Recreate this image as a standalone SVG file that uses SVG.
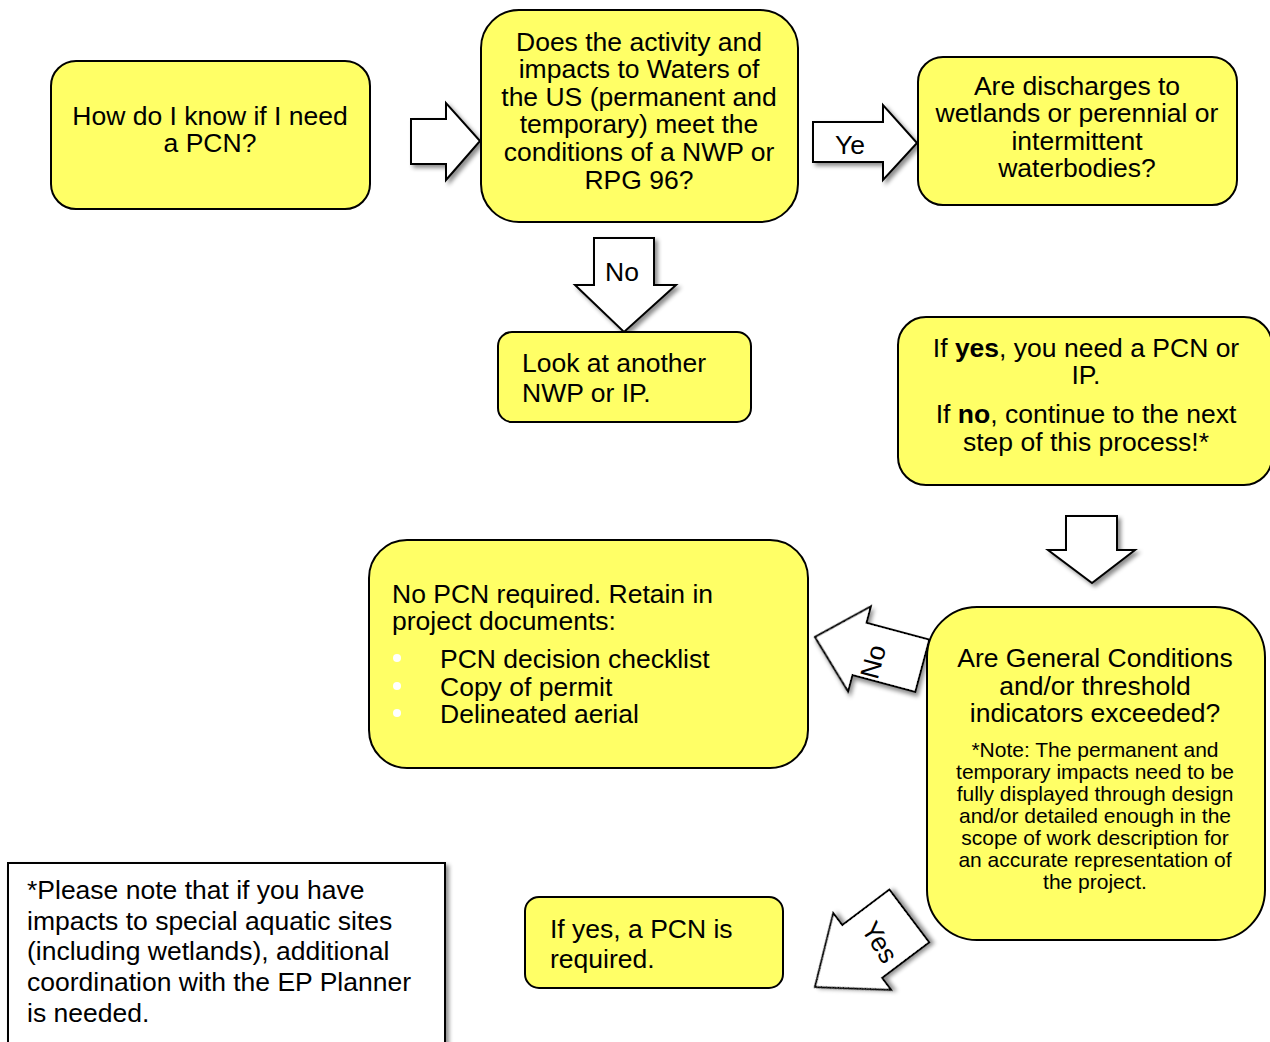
<svg xmlns="http://www.w3.org/2000/svg" width="1270" height="1042" viewBox="0 0 1270 1042">
  <defs>
    <filter id="shadow" x="-20%" y="-20%" width="150%" height="150%">
      <feDropShadow dx="3" dy="3" stdDeviation="2" flood-color="#000" flood-opacity="0.45"/>
    </filter>
    <style>
      .box { fill: #FFFF66; stroke: #000; stroke-width: 2; }
      .arrow { fill: #fff; stroke: #000; stroke-width: 2; stroke-linejoin: miter; filter: url(#shadow); }
      text { font-family: "Liberation Sans", Arial, sans-serif; fill: #000; }
      .t { font-size: 26.5px; }
      .c { text-anchor: middle; }
      .s { font-size: 21px; }
      .b { font-weight: bold; }
    </style>
  </defs>
  <rect width="1270" height="1042" fill="#fff"/>

  <!-- block arrows between the steps -->
  <g id="connectors">
    <polygon class="arrow" points="411,119 446,119 446,103 480,141 446,180 446,164 411,164"/>
    <g>
      <polygon class="arrow" points="813,122 883,122 883,105 917,143 883,180 883,162 813,162"/>
      <text class="t" x="835" y="153.5">Ye</text>
    </g>
    <g>
      <polygon class="arrow" points="594,238 654,238 654,285 676,285 624,332 575,285 594,285"/>
      <text class="t" x="605" y="280.5">No</text>
    </g>
    <polygon class="arrow" points="1066,516 1117,516 1117,550 1135,550 1092,583 1048,550 1066,550"/>
    <g>
      <polygon class="arrow" transform="translate(815,637) rotate(15)" points="0,0 46,-44 46,-27 111,-27 111,27 46,27 46,44"/>
      <text class="t c" transform="translate(882,664) rotate(-75)">No</text>
    </g>
    <g>
      <polygon class="arrow" transform="translate(815,987) rotate(-37)" points="0,0 59,-48 59,-33 118,-33 118,33 59,33 59,48"/>
      <text class="t c" transform="translate(872,947) rotate(58)">Yes</text>
    </g>
  </g>

  <g id="start">
    <rect class="box" x="51" y="61" width="319" height="148" rx="25"/>
    <text class="t c" x="210" y="124.5">How do I know if I need</text>
    <text class="t c" x="210" y="151.5">a PCN?</text>
  </g>

  <g id="nwp-conditions">
    <rect class="box" x="481" y="10" width="317" height="212" rx="38"/>
    <text class="t c" x="639" y="50.5">Does the activity and</text>
    <text class="t c" x="639" y="78">impacts to Waters of</text>
    <text class="t c" x="639" y="105.5">the US (permanent and</text>
    <text class="t c" x="639" y="133">temporary) meet the</text>
    <text class="t c" x="639" y="161">conditions of a NWP or</text>
    <text class="t c" x="639" y="188.5">RPG 96?</text>
  </g>

  <g id="discharges">
    <rect class="box" x="918" y="57" width="319" height="148" rx="25"/>
    <text class="t c" x="1077" y="94.5">Are discharges to</text>
    <text class="t c" x="1077" y="121.5">wetlands or perennial or</text>
    <text class="t c" x="1077" y="149.5">intermittent</text>
    <text class="t c" x="1077" y="176.5">waterbodies?</text>
  </g>

  <g id="another-nwp">
    <rect class="box" x="498" y="332" width="253" height="90" rx="14"/>
    <text class="t" x="522" y="371.5">Look at another</text>
    <text class="t" x="522" y="401.5">NWP or IP.</text>
  </g>

  <g id="yes-no-guidance">
    <rect class="box" x="898" y="317" width="374" height="168" rx="28"/>
    <text class="t c" x="1086" y="356.5">If <tspan class="b">yes</tspan>, you need a PCN or</text>
    <text class="t c" x="1086" y="383.5">IP.</text>
    <text class="t c" x="1086" y="422.5">If <tspan class="b">no</tspan>, continue to the next</text>
    <text class="t c" x="1086" y="450.5">step of this process!*</text>
  </g>

  <g id="no-pcn">
    <rect class="box" x="369" y="540" width="439" height="228" rx="38"/>
    <text class="t" x="392" y="602.5">No PCN required. Retain in</text>
    <text class="t" x="392" y="629.5">project documents:</text>
    <circle cx="397" cy="658" r="4" fill="#fff"/>
    <circle cx="397" cy="686" r="4" fill="#fff"/>
    <circle cx="397" cy="713" r="4" fill="#fff"/>
    <text class="t" x="440" y="667.5">PCN decision checklist</text>
    <text class="t" x="440" y="695.5">Copy of permit</text>
    <text class="t" x="440" y="722.5">Delineated aerial</text>
  </g>

  <g id="general-conditions">
    <rect class="box" x="927" y="607" width="338" height="333" rx="50"/>
    <text class="t c" x="1095" y="666.5">Are General Conditions</text>
    <text class="t c" x="1095" y="694.5">and/or threshold</text>
    <text class="t c" x="1095" y="721.5">indicators exceeded?</text>
    <text class="s c" x="1095" y="756.5">*Note: The permanent and</text>
    <text class="s c" x="1095" y="778.5">temporary impacts need to be</text>
    <text class="s c" x="1095" y="800.5">fully displayed through design</text>
    <text class="s c" x="1095" y="822.5">and/or detailed enough in the</text>
    <text class="s c" x="1095" y="844.5">scope of work description for</text>
    <text class="s c" x="1095" y="866.5">an accurate representation of</text>
    <text class="s c" x="1095" y="888.5">the project.</text>
  </g>

  <g id="pcn-required">
    <rect class="box" x="525" y="897" width="258" height="91" rx="14"/>
    <text class="t" x="550" y="937.5">If yes, a PCN is</text>
    <text class="t" x="550" y="967.5">required.</text>
  </g>

  <g id="special-sites-note">
    <rect x="8" y="863" width="437" height="200" fill="#fff" stroke="#000" stroke-width="2" filter="url(#shadow)"/>
    <text class="t" x="27" y="898.5">*Please note that if you have</text>
    <text class="t" x="27" y="929.5">impacts to special aquatic sites</text>
    <text class="t" x="27" y="959.5">(including wetlands), additional</text>
    <text class="t" x="27" y="990.5">coordination with the EP Planner</text>
    <text class="t" x="27" y="1021.5">is needed.</text>
  </g>
</svg>
